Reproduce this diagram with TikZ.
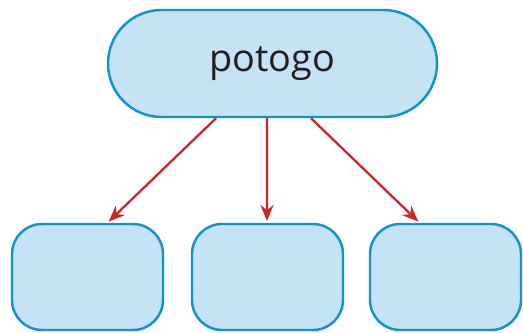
\documentclass[tikz,border=0pt]{standalone}
\usepackage{fontspec}
\setmainfont{Open Sans}
\usetikzlibrary{arrows.meta, positioning}
\definecolor{boxfill}{HTML}{C6E2F5}
\definecolor{boxline}{HTML}{0D94D6}
\definecolor{arrred}{HTML}{D1232A}
\definecolor{txtgray}{HTML}{231F20}
\begin{document}
\begin{tikzpicture}[
                box/.style={rectangle, draw=boxline, fill=boxfill, line width=1.4pt, rounded corners=0.6cm, minimum width=3.02cm, minimum height=2.12cm},
                arr/.style={-{Stealth[length=0.32cm, width=0.26cm]}, draw=arrred, line width=1.3pt, shorten >=1pt}
            ]
                \useasboundingbox (0,0) rectangle (10.46,6.64);
                \node[box, rounded corners=1.07cm, minimum width=6.58cm, minimum height=2.14cm, font=\fontsize{21.5}{24}\selectfont, text=txtgray] (top) at (5.45,5.37) {potogo};
                \node[box] (left) at (1.75,1.1) {};
                \node[box] (mid) at (5.35,1.1) {};
                \node[box] (right) at (8.91,1.1) {};

                \draw[arr] ([xshift=-1.13cm]top.south) -- ([xshift=0.4cm]left.north);
                \draw[arr] ([xshift=-0.11cm]top.south) -- ([xshift=-0.01cm]mid.north);
                \draw[arr] ([xshift=0.77cm]top.south) -- ([xshift=-0.52cm]right.north);
            \end{tikzpicture}
\end{document}
